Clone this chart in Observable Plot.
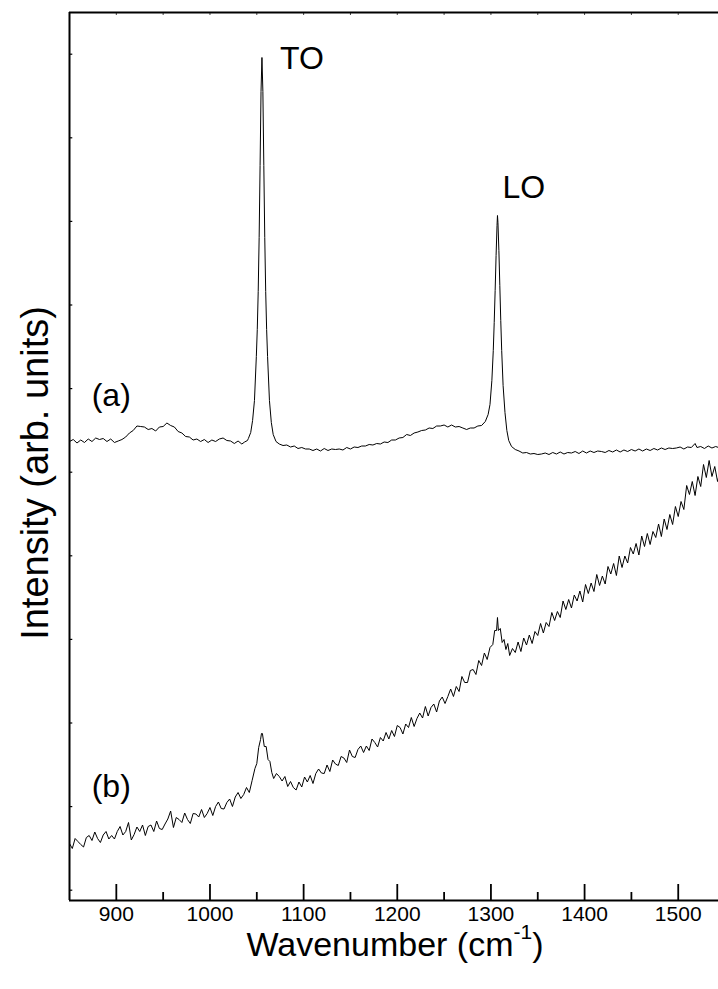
<!DOCTYPE html>
<html><head><meta charset="utf-8">
<script src="https://cdn.jsdelivr.net/npm/d3@7"></script>
<script src="https://cdn.jsdelivr.net/npm/@observablehq/plot@0.6"></script>
<style>body{margin:0;background:#fff} svg{display:block}</style>
</head><body><div id="chart"></div>
<script>
// Raman spectra, intensity in arbitrary units; [wavenumber (cm-1), intensity]
const spectrumA = [
[850,459],[854,461],[858,457.5],[862,460.5],[866,458],[870,461.5],[874,459],[878,462.5],[882,461],[886,462],
[890,459],[894,461.5],[898,458],[902,459.5],[906,461],[910,463.5],[914,467.5],[918,470],[922,474.5],[926,474],
[930,473.5],[934,471],[938,472],[942,469.5],[946,473.5],[950,474],[954,477.5],[958,475],[962,473.5],[966,469],
[970,467.5],[974,464],[978,463.5],[982,460.5],[986,461.5],[990,459],[994,461],[998,458],[1002,460.5],[1006,459],
[1010,461.5],[1014,462.5],[1018,460],[1022,459.5],[1026,457],[1030,459.5],[1034,456.5],[1037,458.5],[1040,460],
[1041,462],[1043.5,468],[1045.5,480],[1047.5,500],[1049.5,544],[1050.5,571],[1051.5,609],[1052.5,663],[1053.5,735],[1054.5,809],
[1055.5,843],[1056.5,809],[1057.5,735],[1058.5,663],[1059.5,609],[1060.5,571],[1061.5,544],[1063.5,500],[1065.5,478],[1067.5,466],
[1070.5,459],[1074,456.5],[1078,455],[1082,455.5],[1086,453.5],[1090,454.5],[1094,452],[1098,453],[1102,451.5],[1106,451.5],
[1110,450],[1114,451.5],[1118,449.5],[1122,452],[1126,450],[1130,451.5],[1134,451],[1138,451.5],[1142,450.5],[1146,453],
[1150,451.5],[1154,453.5],[1158,453],[1162,454.5],[1166,454.5],[1170,456],[1174,455.5],[1178,457],[1182,456.5],[1186,458.5],
[1190,458],[1194,460.5],[1198,460.5],[1202,462.5],[1206,463],[1210,466],[1214,465],[1218,467.5],[1222,468.5],[1226,470],
[1230,470.5],[1234,472.5],[1238,472],[1242,474.5],[1246,474.5],[1250,475.5],[1254,473.5],[1258,475.5],[1262,473.5],[1266,474],
[1270,472.5],[1274,471],[1278,472.5],[1282,472.5],[1286,474.5],[1290,475],[1294,479],[1297,486],[1299,496],[1301,520],
[1302.5,550],[1303.5,578],[1304.5,610],[1305.5,645],[1306.5,675],[1307,685],[1307.5,678],[1308.5,650],[1309.5,615],[1310.5,580],
[1311.5,550],[1313,515],[1315,488],[1317,470],[1319,460],[1322,454],[1326,451],[1330,449.5],[1334,447.5],[1338,448],
[1342,446.5],[1346,447],[1350,446],[1354,446.5],[1358,447.5],[1362,446],[1366,448],[1370,446.5],[1374,448.5],[1378,446.5],
[1382,448],[1386,447.5],[1390,449],[1394,447],[1398,449.5],[1402,447.5],[1406,449.5],[1410,448],[1414,449.5],[1418,449],
[1422,448],[1426,450],[1430,448.5],[1434,450.5],[1438,448.5],[1442,450.5],[1446,449],[1450,451],[1454,449.5],[1458,451.5],
[1462,449.5],[1466,451.5],[1470,450],[1474,452],[1478,450.5],[1482,452.5],[1486,451],[1490,452.5],[1494,452],[1498,452.5],
[1502,453.5],[1506,451.5],[1510,453.5],[1514,453],[1518,457],[1520,453],[1524,454],[1528,452],[1532,454.5],[1536,452.5],
[1540,454],[1543,453]
];
const spectrumB = [
[850,57],[853,52],[856,62],[859,59],[862,56],[865,53.5],[868,63],[871,65],[874,60],[877,68.5],
[880,62],[883,58],[886,65.5],[889,69],[892,61.5],[895,65],[898,61.5],[901,69],[904,74],[907,65.5],
[910,69],[913,78],[916,60.5],[919,66],[922,73.5],[925,69],[928,75.5],[931,65],[934,74],[937,75.5],
[940,69],[943,79.5],[946,72],[949,71],[952,76.5],[955,81.5],[958,89.5],[961,73],[964,83],[967,81],
[970,78],[973,87.5],[976,81],[979,77],[982,87],[985,86.5],[988,83.5],[991,91],[994,83],[997,87],
[1000,93],[1003,85],[1006,94],[1009,98.5],[1012,92],[1015,91.5],[1018,98],[1021,101.5],[1024,94],[1027,103.5],
[1030,108],[1033,102],[1036,106],[1039,113],[1042,108],[1045,120],[1048,132],[1050,137],[1052,153],[1054,161],
[1055,167],[1056,167],[1058,154],[1060,154],[1062,141],[1064,139],[1066,128],[1068,122],[1071,127],[1074,124],
[1077,119.5],[1080,124],[1083,114],[1086,119],[1089,113],[1092,110.5],[1095,118.5],[1098,113.5],[1101,123.5],[1104,118.5],
[1107,125],[1110,117],[1113,127],[1116,131.5],[1119,127.5],[1122,127],[1125,135.5],[1128,129],[1131,140.5],[1134,136.5],
[1137,135],[1140,144],[1143,142.5],[1146,138],[1149,150.5],[1152,144],[1155,143],[1158,151],[1161,154.5],[1164,148],
[1167,154.5],[1170,150],[1173,161.5],[1176,158],[1179,153.5],[1182,163],[1185,159.5],[1188,168],[1191,161.5],[1194,170],
[1197,164],[1200,175],[1203,173],[1206,166.5],[1209,176.5],[1212,173],[1215,183],[1218,174],[1221,182],[1224,187.5],
[1227,182.5],[1230,194],[1233,184.5],[1236,193],[1239,196.5],[1242,188.5],[1245,199.5],[1248,203.5],[1251,197],[1254,204],
[1257,211.5],[1260,204],[1263,214],[1266,209],[1269,224],[1272,218],[1275,218],[1278,230],[1281,231],[1284,226],
[1287,240],[1290,235],[1293,247.5],[1296,241],[1299,253],[1302,256],[1304,270],[1306,270],[1307,283],[1308,270],
[1310,272],[1312,258],[1314,261],[1316,251],[1318,257],[1320,245],[1323,252],[1326,248],[1329,258.5],[1332,249],
[1335,262.5],[1338,255.5],[1341,265.5],[1344,257],[1347,269],[1350,265],[1353,277],[1356,267.5],[1359,278],[1362,274],
[1365,288],[1368,280],[1371,289],[1374,283],[1377,299.5],[1380,291],[1383,301],[1386,292.5],[1389,305.5],[1392,299.5],
[1395,309.5],[1398,298.5],[1401,316],[1404,307],[1407,317.5],[1410,309],[1413,326],[1416,315],[1419,324.5],[1422,316.5],
[1425,334],[1428,326.5],[1431,337],[1434,325],[1437,344.5],[1440,333],[1443,344.5],[1446,337.5],[1449,353],[1452,346.5],
[1455,357],[1458,345.5],[1461,364.5],[1464,354],[1467,367],[1470,356],[1473,369],[1476,363],[1479,376.5],[1482,364],
[1485,381.5],[1488,371],[1491,386],[1494,376],[1497,394],[1500,384],[1503,399],[1506,391],[1509,415],[1512,406],
[1515,419],[1518,405],[1521,424],[1524,414],[1527,436],[1530,423],[1533,440],[1536,424],[1539,434],[1542,419],
[1543,423]
];
const xMajorTicks = [900, 1000, 1100, 1200, 1300, 1400, 1500];
const xMinorTicks = [950, 1050, 1150, 1250, 1350, 1450];
const xTopTicks = [900, 950, 1000, 1050, 1100, 1150, 1200, 1250, 1300, 1350, 1400, 1450, 1500];
const yTicks = [10.3, 93.9, 177.5, 261.1, 344.7, 428.3, 511.9, 595.5, 679.1, 762.7, 846.3];
const xDomain = [850, 1543];
const yDomain = [0, 888];
const peakLabels = [{text: "TO", wn: 1074.8, v: 832}, {text: "LO", wn: 1312.3, v: 703}];
const curveLabels = [{text: "(a)", wn: 873.7, v: 495}, {text: "(b)", wn: 873.7, v: 104}];
const xTitle = "Wavenumber (cm";
const xTitleSup = "-1";
const yTitle = "Intensity (arb. units)";

const font = "'Liberation Sans', Arial, Helvetica, sans-serif";
const plot = Plot.plot({
  width: 718, height: 989,
  marginLeft: 69, marginRight: 0, marginTop: 12, marginBottom: 89,
  x: {domain: xDomain, axis: null},
  y: {domain: yDomain, axis: null},
  style: {fontFamily: font, background: "white", color: "black"},
  marks: [
    Plot.line(spectrumA, {x: d => d[0], y: d => d[1], stroke: "black", strokeWidth: 1}),
    Plot.line(spectrumB, {x: d => d[0], y: d => d[1], stroke: "black", strokeWidth: 1}),
    Plot.ruleX(xMajorTicks, {x: d => d, y1: 0, y2: 16, stroke: "black", strokeWidth: 1.8}),
    Plot.ruleX(xMinorTicks, {x: d => d, y1: 0, y2: 8, stroke: "black", strokeWidth: 1.8}),
    Plot.ruleX(xTopTicks, {x: d => d, y1: 888, y2: 885, stroke: "#444", strokeWidth: 1}),
    Plot.ruleY(yTicks, {y: d => d, x1: 850, x2: 853.5, stroke: "black", strokeWidth: 1.2}),
    Plot.ruleY([0], {stroke: "black", strokeWidth: 2}),
    Plot.ruleY([888], {stroke: "black", strokeWidth: 2}),
    Plot.ruleX([850], {stroke: "black", strokeWidth: 2}),
    Plot.axisX(xMajorTicks, {tickSize: 0, tickPadding: 6, fontSize: 21, fill: "black", label: null, tickFormat: d => String(d)}),
    Plot.text(peakLabels, {x: "wn", y: "v", text: "text", textAnchor: "start", lineAnchor: "bottom", fontSize: 32, fill: "black"}),
    Plot.text(curveLabels, {x: "wn", y: "v", text: "text", textAnchor: "start", lineAnchor: "bottom", fontSize: 32, fill: "black"})
  ]
});
const svg = d3.select(plot);
const t = svg.append("text").attr("x", 395).attr("y", 956).attr("text-anchor", "middle")
  .attr("font-family", font).attr("font-size", 34).attr("fill", "black");
t.append("tspan").text(xTitle);
t.append("tspan").text(xTitleSup).attr("font-size", 21).attr("dy", "-0.8em");
t.append("tspan").text(")").attr("dy", "0.5em").attr("font-size", 34);
svg.append("text").attr("transform", "translate(35,473) rotate(-90)").attr("text-anchor", "middle")
  .attr("dy", "0.35em").attr("font-family", font).attr("font-size", 38).attr("fill", "black").text(yTitle);
document.getElementById("chart").appendChild(plot);
</script>
</body></html>
